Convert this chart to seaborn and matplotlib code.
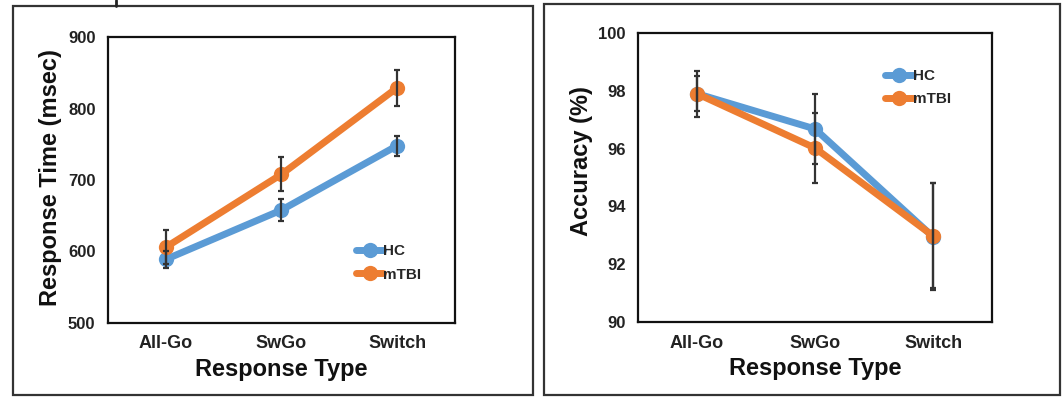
import numpy as np
import pandas as pd
import matplotlib
matplotlib.use("Agg")
import matplotlib.pyplot as plt
import seaborn as sns
from matplotlib.patches import Rectangle
from matplotlib.lines import Line2D

# data
response_types = ["All-Go", "SwGo", "Switch"]
groups = ["HC", "mTBI"]

rt_hc = [589, 658, 748]
rt_hc_err = [12, 15, 14]
rt_mtbi = [606, 708, 829]
rt_mtbi_err = [24, 24, 25]

acc_hc = [97.9, 96.68, 92.95]
acc_hc_err = [0.6, 1.2, 1.85]
acc_mtbi = [97.9, 96.02, 92.98]
acc_mtbi_err = [0.8, 1.2, 1.82]

colors = {"HC": "#5B9BD5", "mTBI": "#ED7D31"}


def make_df(hc, hc_err, mtbi, mtbi_err):
    return pd.DataFrame({
        "type": response_types * 2,
        "group": ["HC"] * 3 + ["mTBI"] * 3,
        "value": hc + mtbi,
        "err": hc_err + mtbi_err,
    })


def draw_panel(ax, df, ylabel, ylim, yticks, legend_anchor, label_xy):
    sns.lineplot(data=df, x="type", y="value", hue="group", palette=colors,
                 marker="o", markersize=11, markeredgewidth=0, linewidth=5,
                 sort=False, ax=ax)
    for g in groups:
        sub = df[df["group"] == g]
        ax.errorbar(np.arange(len(sub)), sub["value"], yerr=sub["err"],
                    fmt="none", ecolor="#333333", elinewidth=1.6,
                    capsize=2.5, capthick=1.6, zorder=5)
    ax.set_xlim(-0.5, 2.5)
    ax.set_ylim(*ylim)
    ax.set_yticks(yticks)
    ax.set_xticks(range(3))
    ax.set_xticklabels(response_types, fontsize=13, fontweight="bold", color="#222222")
    ax.set_yticklabels([str(t) for t in yticks], fontsize=12, fontweight="bold", color="#222222")
    ax.tick_params(axis="x", length=0, pad=9)
    ax.tick_params(axis="y", length=3, width=1, pad=6)
    ax.set_xlabel("Response Type", fontsize=17, fontweight="bold", color="#111111", labelpad=4)
    ax.set_ylabel(ylabel, fontsize=17, fontweight="bold", color="#111111")
    ax.yaxis.set_label_coords(*label_xy)
    for s in ax.spines.values():
        s.set_color("#111111")
        s.set_linewidth(1.6)
    ax.grid(False)
    ax.legend(frameon=False, loc="center left", bbox_to_anchor=legend_anchor,
              handlelength=1.8, handletextpad=0.0, labelspacing=0.6,
              prop={"weight": "bold", "size": 11})


sns.set_theme(style="white")
plt.rcParams["font.family"] = ["Liberation Sans", "DejaVu Sans"]

fig = plt.figure(figsize=(10.62, 3.97), dpi=100)
ax1 = fig.add_axes([0.1017, 0.1864, 0.3267, 0.7204])
ax2 = fig.add_axes([0.6008, 0.1889, 0.3333, 0.728])

draw_panel(ax1, make_df(rt_hc, rt_hc_err, rt_mtbi, rt_mtbi_err),
           "Response Time (msec)", (500, 900), [500, 600, 700, 800, 900],
           (0.675, 0.21), (-0.133, 0.51))
draw_panel(ax2, make_df(acc_hc, acc_hc_err, acc_mtbi, acc_mtbi_err),
           "Accuracy (%)", (90, 100), [90, 92, 94, 96, 98, 100],
           (0.66, 0.81), (-0.127, 0.557))

# outer panel frames
fig.add_artist(Rectangle((0.0118, 0.005), 0.4898, 0.98, transform=fig.transFigure,
                         fill=False, edgecolor="#333333", linewidth=1.6))
fig.add_artist(Rectangle((0.5122, 0.005), 0.4859, 0.985, transform=fig.transFigure,
                         fill=False, edgecolor="#333333", linewidth=1.6))
# clipped letter stem at top of the left panel
fig.add_artist(Line2D([0.1092, 0.1092], [0.985, 1.0], transform=fig.transFigure,
                      color="#222222", linewidth=2))

fig.savefig("out.png", dpi=100)
